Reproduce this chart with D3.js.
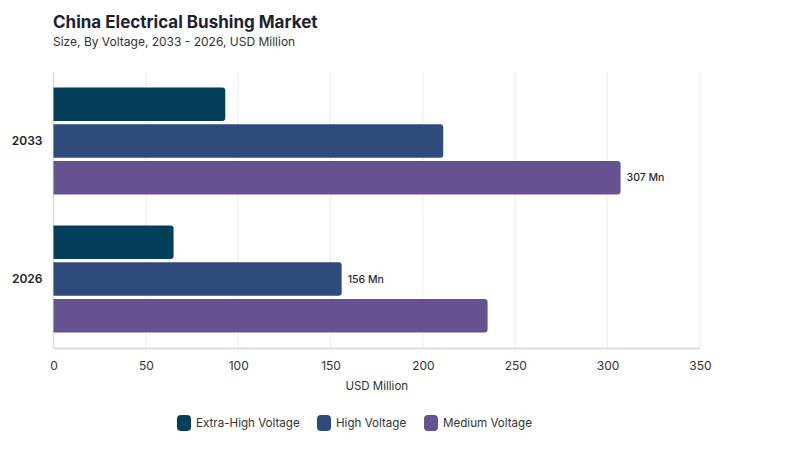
<!DOCTYPE html>
<html>
<head>
<meta charset="utf-8">
<script src="https://cdn.jsdelivr.net/npm/d3@7"></script>
<style>
  body { margin: 0; background: #fff; }
  svg { display: block; font-family: 'Inter', 'Lato', sans-serif; }
</style>
</head>
<body>
<div class="canvas"></div>
<script>
const years = ['2033', '2026']
const segments = ['Extra-High Voltage', 'High Voltage', 'Medium Voltage']
const extraHigh = [93, 65]
const high = [211, 156]
const medium = [307, 235]
const xTicks = [0, 50, 100, 150, 200, 250, 300, 350]
// which bar gets a value label in each year
const labelled = ['Medium Voltage', 'High Voltage']

const colors = ['#033f5b', '#2f4b7c', '#665191']

const width = 800
const height = 450
const margin = {top: 72, bottom: 102, right: 100, left: 53.5}
const graphWidth = width - margin.left - margin.right
const graphHeight = height - margin.top - margin.bottom

const rows = years.map((year, i) => ({
  year,
  values: [extraHigh[i], high[i], medium[i]].map((value, j) => ({segment: segments[j], value}))
}))

const x = d3.scaleLinear().domain([0, 350]).range([0, graphWidth])
const y0 = d3.scaleBand().domain(years).range([0, graphHeight])
const y1 = d3.scaleBand().domain(segments).range([0, y0.bandwidth()])
  .paddingInner(0.09)
  .paddingOuter(0.42)
const color = d3.scaleOrdinal().domain(segments).range(colors)

// bar with rounded right end only
const barPath = (w, h, r) => {
  r = Math.min(r, w, h / 2)
  return `M0,0H${w - r}Q${w},0 ${w},${r}V${h - r}Q${w},${h} ${w - r},${h}H0Z`
}

const svg = d3.select('.canvas').append('svg')
  .attr('width', width)
  .attr('height', height)

svg.append('text')
  .attr('x', 53).attr('y', 28)
  .attr('font-size', 17).attr('font-weight', 700)
  .attr('fill', '#1e1f33')
  .text('China Electrical Bushing Market')
svg.append('text')
  .attr('x', 53).attr('y', 46)
  .attr('font-size', 12)
  .attr('fill', '#333')
  .text('Size, By Voltage, 2033 - 2026, USD Million')

const graph = svg.append('g')
  .attr('transform', `translate(${margin.left}, ${margin.top})`)

graph.append('g')
  .selectAll('line')
  .data(xTicks.slice(1))
  .enter().append('line')
  .attr('x1', d => x(d)).attr('x2', d => x(d))
  .attr('y1', 0).attr('y2', graphHeight)
  .attr('stroke', '#ececec')

graph.append('line')
  .attr('x1', 0).attr('x2', 0)
  .attr('y1', 0).attr('y2', graphHeight)
  .attr('stroke', '#dcdcdc').attr('stroke-width', 1.5)

const groups = graph.selectAll('.group')
  .data(rows)
  .enter().append('g')
  .attr('transform', d => `translate(0, ${y0(d.year)})`)

groups.selectAll('path')
  .data(d => d.values)
  .enter().append('path')
  .attr('transform', d => `translate(0, ${y1(d.segment)})`)
  .attr('d', d => barPath(x(d.value), y1.bandwidth(), 3))
  .attr('fill', d => color(d.segment))

groups.append('text')
  .datum((d, i) => d.values.find(v => v.segment === labelled[i]))
  .attr('x', d => x(d.value) + 6)
  .attr('y', d => y1(d.segment) + y1.bandwidth() / 2)
  .attr('dy', '0.35em')
  .attr('font-size', 10.5).attr('font-weight', 500)
  .attr('fill', '#2b2b3a')
  .text(d => `${d.value} Mn`)

const yAxis = graph.append('g')
  .call(d3.axisLeft(y0).tickSize(0).tickPadding(11))
yAxis.select('.domain').remove()
yAxis.selectAll('text')
  .attr('font-size', 12).attr('font-weight', 600)
  .attr('fill', '#222')
  .style('font-family', "'Inter', sans-serif")

const xAxis = graph.append('g')
  .attr('transform', `translate(0, ${graphHeight})`)
  .call(d3.axisBottom(x).tickValues(xTicks).tickSize(0).tickPadding(13))
xAxis.select('.domain').attr('stroke', '#dddddd').attr('stroke-width', 2)
xAxis.selectAll('text')
  .attr('font-size', 12)
  .attr('fill', '#333')
  .style('font-family', "'Inter', sans-serif")

graph.append('text')
  .attr('x', x(175)).attr('y', graphHeight + 42)
  .attr('text-anchor', 'middle')
  .attr('font-size', 11.5)
  .attr('fill', '#333')
  .text('USD Million')

const legendX = [177, 317, 424]
const legend = svg.append('g')
  .selectAll('g')
  .data(segments)
  .enter().append('g')
  .attr('transform', (d, i) => `translate(${legendX[i]}, 415)`)
legend.append('rect')
  .attr('width', 14).attr('height', 16)
  .attr('rx', 4)
  .attr('fill', d => color(d))
legend.append('text')
  .attr('x', 19).attr('y', 8)
  .attr('dy', '0.35em')
  .attr('font-size', 11.6)
  .attr('fill', '#333')
  .text(d => d)
</script>
</body>
</html>
